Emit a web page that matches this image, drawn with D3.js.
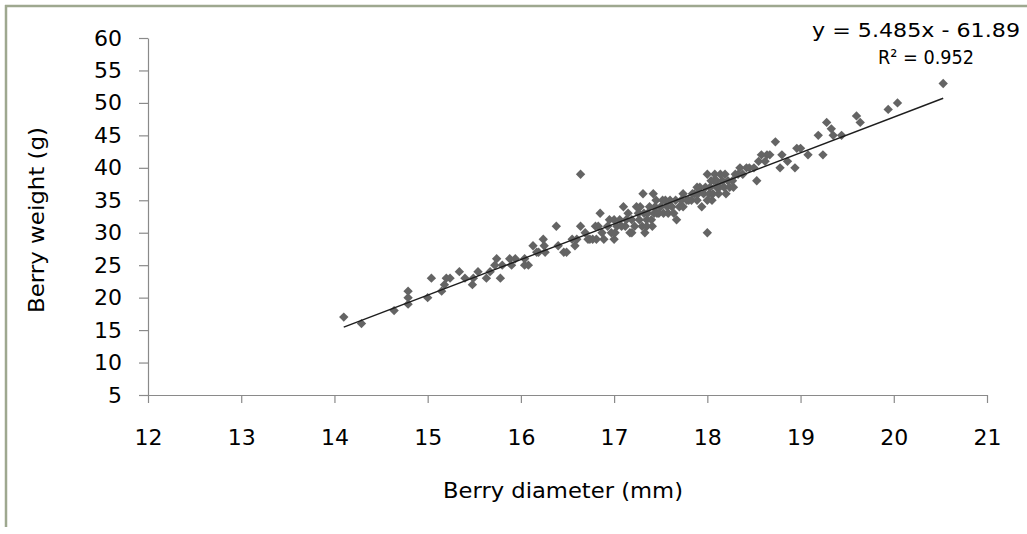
<!DOCTYPE html>
<html>
<head>
<meta charset="utf-8">
<script src="https://cdn.jsdelivr.net/npm/d3@7"></script>
<style>
  body { margin: 0; background: #fff; }
  text { font-family: "DejaVu Sans", sans-serif; fill: #000; }
</style>
</head>
<body>
<div id="chart"></div>
<script>
// Berry weight vs berry diameter - scatter with linear trend line

// Data
var berryDiameter = [
  14.10, 14.29, 14.64, 14.79, 14.79, 14.79, 15.00, 15.04, 15.15, 15.18,
  15.20, 15.24, 15.34, 15.40, 15.48, 15.49, 15.54, 15.63, 15.67, 15.72,
  15.74, 15.78, 15.80, 15.88, 15.90, 15.94, 16.04, 16.04, 16.08, 16.13,
  16.17, 16.19, 16.24, 16.25, 16.26, 16.38, 16.40, 16.46, 16.49, 16.55,
  16.58, 16.60, 16.64, 16.64, 16.69, 16.72, 16.74, 16.77, 16.80, 16.83,
  16.81, 16.85, 16.87, 16.89, 16.93, 16.95, 16.97, 17.00, 17.00, 17.01,
  17.03, 17.06, 17.08, 17.10, 17.12, 17.13, 17.15, 17.17, 17.19, 17.19,
  17.22, 17.24, 17.26, 17.27, 17.28, 17.30, 17.31, 17.32, 17.33, 17.35,
  17.35, 17.36, 17.38, 17.40, 17.41, 17.42, 17.43, 17.44, 17.45, 17.46,
  17.48, 17.50, 17.52, 17.53, 17.55, 17.57, 17.58, 17.60, 17.62, 17.64,
  17.66, 17.67, 17.70, 17.72, 17.74, 17.74, 17.78, 17.80, 17.83, 17.84,
  17.86, 17.89, 17.89, 17.90, 17.92, 17.94, 17.96, 17.98, 18.00, 18.00,
  18.00, 18.02, 18.03, 18.04, 18.05, 18.06, 18.07, 18.08, 18.10, 18.10,
  18.12, 18.13, 18.14, 18.16, 18.18, 18.19, 18.20, 18.22, 18.24, 18.27,
  18.28, 18.30, 18.33, 18.35, 18.38, 18.42, 18.45, 18.50, 18.53, 18.55,
  18.58, 18.62, 18.64, 18.67, 18.73, 18.78, 18.80, 18.86, 18.94, 18.96,
  19.00, 19.08, 19.19, 19.24, 19.28, 19.33, 19.35, 19.44, 19.60, 19.64,
  19.94, 20.04, 20.53
]
var berryWeight = [
  17, 16, 18, 19, 20, 21, 20, 23, 21, 22,
  23, 23, 24, 23, 22, 23, 24, 23, 24, 25,
  26, 23, 25, 26, 25, 26, 25, 26, 25, 28,
  27, 27, 29, 28, 27, 31, 28, 27, 27, 29,
  28, 29, 31, 39, 30, 29, 29, 29, 31, 31,
  29, 33, 30, 29, 31, 32, 30, 32, 29, 30,
  31, 32, 31, 34, 31, 32, 33, 30, 32, 30,
  31, 34, 33, 32, 34, 31, 36, 33, 30, 31,
  32, 33, 34, 32, 31, 36, 33, 34, 35, 33,
  33, 34, 35, 33, 35, 34, 33, 35, 34, 33,
  35, 32, 34, 35, 36, 34, 35, 35, 35, 36,
  36, 37, 35, 36, 37, 34, 36, 37, 39, 30,
  35, 36, 37, 38, 35, 36, 38, 39, 37, 38,
  36, 37, 39, 38, 37, 39, 36, 38, 37, 38,
  37, 39, 39, 40, 39, 40, 40, 40, 38, 41,
  42, 41, 42, 42, 44, 40, 42, 41, 40, 43,
  43, 42, 45, 42, 47, 46, 45, 45, 48, 47,
  49, 50, 53
]

// Linear trend (from the equation in the picture)
var trendSlope = 5.485
var trendIntercept = -61.89
var trendRange = [14.10, 20.53]
var equationLines = ["y = 5.485x - 61.89", "R\u00B2 = 0.952"]

var xTicks = [12, 13, 14, 15, 16, 17, 18, 19, 20, 21]
var yTicks = [5, 10, 15, 20, 25, 30, 35, 40, 45, 50, 55, 60]

var width = 1027
var height = 534

const svg = d3.select("#chart")
  .append("svg")
    .attr("width", width)
    .attr("height", height)

// Frame (top and left edges only are visible)
svg.append("line")
  .attr("x1", 5).attr("x2", width)
  .attr("y1", 6).attr("y2", 6)
  .attr("stroke", "#9ea88f")
  .attr("stroke-width", 2.5)
svg.append("line")
  .attr("x1", 6).attr("x2", 6)
  .attr("y1", 5).attr("y2", 527)
  .attr("stroke", "#9ea88f")
  .attr("stroke-width", 2.5)

// Scales
const x = d3.scaleLinear()
  .domain([12, 21])
  .range([148, 987])
const y = d3.scaleLinear()
  .domain([5, 60])
  .range([395, 38])

// Axes
svg.append("g")
  .attr("transform", "translate(0,395)")
  .call(d3.axisBottom(x).tickValues(xTicks).tickSize(8).tickSizeOuter(0).tickPadding(26))
svg.append("g")
  .attr("transform", "translate(148,0)")
  .call(d3.axisLeft(y).tickValues(yTicks).tickSize(9).tickSizeOuter(0).tickPadding(17))

svg.selectAll(".domain, .tick line")
  .attr("stroke", "#8a8a8a")
  .attr("stroke-width", 1.2)
svg.selectAll(".tick text")
  .style("font-family", "DejaVu Sans")
  .style("font-size", "22px")
  .attr("fill", "#000")

// Axis titles
svg.append("text")
  .attr("x", 563)
  .attr("y", 498)
  .attr("text-anchor", "middle")
  .attr("textLength", 240)
  .attr("lengthAdjust", "spacingAndGlyphs")
  .style("font-size", "22px")
  .text("Berry diameter (mm)")

svg.append("text")
  .attr("transform", "translate(44,220) rotate(-90)")
  .attr("text-anchor", "middle")
  .attr("textLength", 186)
  .attr("lengthAdjust", "spacingAndGlyphs")
  .style("font-size", "22px")
  .text("Berry weight (g)")

// Points (grey diamonds)
var points = berryDiameter.map(function(d, i) { return {d: d, w: berryWeight[i]} })
const diamond = d3.symbol().type(d3.symbolSquare).size(44)

svg.append("g")
  .selectAll("path")
  .data(points)
  .join("path")
    .attr("d", diamond)
    .attr("transform", d => "translate(" + x(d.d) + "," + y(d.w) + ") rotate(45)")
    .attr("fill", "#646464")

// Trend line
svg.append("line")
  .attr("x1", x(trendRange[0]))
  .attr("y1", y(trendSlope * trendRange[0] + trendIntercept))
  .attr("x2", x(trendRange[1]))
  .attr("y2", y(trendSlope * trendRange[1] + trendIntercept))
  .attr("stroke", "#1e1e1e")
  .attr("stroke-width", 1.4)

// Equation label
svg.append("text")
  .attr("x", 916)
  .attr("y", 37)
  .attr("text-anchor", "middle")
  .attr("textLength", 208)
  .attr("lengthAdjust", "spacingAndGlyphs")
  .style("font-size", "20px")
  .text(equationLines[0])
svg.append("text")
  .attr("x", 926)
  .attr("y", 64)
  .attr("text-anchor", "middle")
  .attr("textLength", 96)
  .attr("lengthAdjust", "spacingAndGlyphs")
  .style("font-size", "20px")
  .text(equationLines[1])
</script>
</body>
</html>
